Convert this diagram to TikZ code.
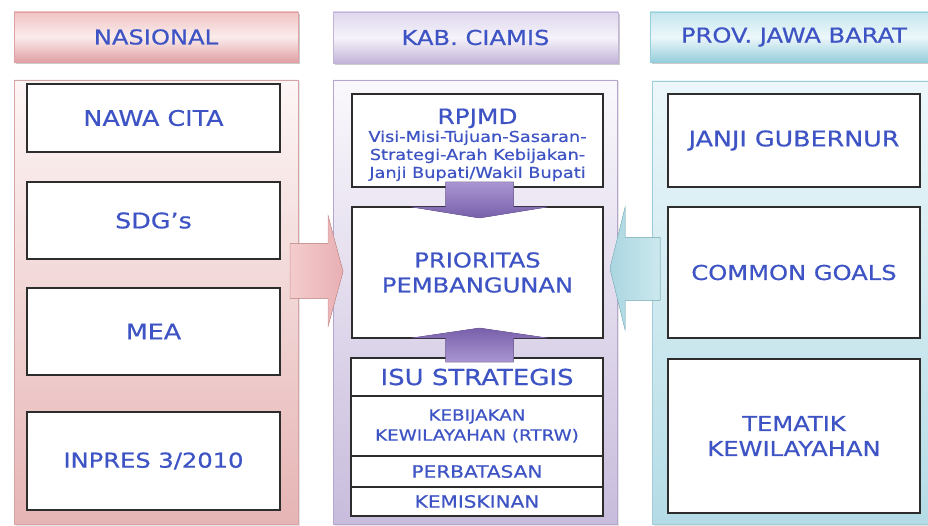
\documentclass[tikz,border=0pt]{standalone}
\usepackage{fontspec}
\setmainfont{DejaVu Sans}[FakeStretch=1.18,FakeBold=0.6]
\usetikzlibrary{shadows,calc}
\definecolor{txt}{RGB}{62,84,196}
\definecolor{boxline}{RGB}{45,45,45}
% headers
\definecolor{hNt}{RGB}{240,196,196}
\definecolor{hNm}{RGB}{250,236,236}
\definecolor{hNb}{RGB}{224,160,164}
\definecolor{hKt}{RGB}{222,214,236}
\definecolor{hKm}{RGB}{246,243,250}
\definecolor{hKb}{RGB}{194,180,216}
\definecolor{hPt}{RGB}{196,230,238}
\definecolor{hPm}{RGB}{236,247,250}
\definecolor{hPb}{RGB}{150,206,220}
% panels
\definecolor{pNt}{RGB}{253,246,246}
\definecolor{pNbot}{RGB}{230,180,180}
\definecolor{pNd}{RGB}{214,164,164}
\definecolor{pKt}{RGB}{250,248,252}
\definecolor{pKbot}{RGB}{200,188,220}
\definecolor{pKd}{RGB}{180,166,206}
\definecolor{pPt}{RGB}{236,247,250}
\definecolor{pPbot}{RGB}{180,220,230}
\definecolor{pPd}{RGB}{160,204,216}
% arrows
\definecolor{arL}{RGB}{244,204,204}
\definecolor{arR}{RGB}{232,176,180}
\definecolor{arLd}{RGB}{214,150,150}
\definecolor{abL}{RGB}{170,214,224}
\definecolor{abR}{RGB}{204,232,238}
\definecolor{abd}{RGB}{140,196,210}
\definecolor{puT}{RGB}{170,150,210}
\definecolor{puB}{RGB}{120,96,170}
\begin{document}
\begin{tikzpicture}[x=1pt,y=-1pt,
  tx/.style={text=txt, font=\fontsize{20.5}{25}\selectfont},
  ibox/.style={draw=boxline, line width=1.1pt, fill=white, inner sep=0pt, outer sep=0pt, anchor=north west, align=center, tx},
  hdr/.style={inner sep=0pt, outer sep=0pt, anchor=north west, tx, drop shadow={shadow xshift=2pt, shadow yshift=-2.5pt, opacity=0.4, fill=black!50}},
  panel/.style={inner sep=0pt, outer sep=0pt, anchor=north west, line width=0.8pt, drop shadow={shadow xshift=1.5pt, shadow yshift=-1.5pt, opacity=0.25, fill=black!40}},
  purp/.style={top color=puT, bottom color=puB, draw=puB, line width=0.4pt},
]
\useasboundingbox (0,0) rectangle (928,526);
\clip (0,0) rectangle (928,526);

% headers
\node[hdr, draw=hNb, top color=hNt, bottom color=hNb, middle color=hNm, minimum width=284, minimum height=50] (hN) at (14,12) {NASIONAL};
\node[hdr, draw=hKb, top color=hKt, bottom color=hKb, middle color=hKm, minimum width=285, minimum height=51] (hK) at (333,12) {KAB. CIAMIS};
\node[hdr, draw=hPb, top color=hPt, bottom color=hPb, middle color=hPm, minimum width=288, minimum height=50] (hP) at (650,12) {PROV. JAWA BARAT};

% panels
\node[panel, draw=pNd, top color=pNt, bottom color=pNbot, minimum width=284, minimum height=444] (pN) at (14,80) {};
\node[panel, draw=pKd, top color=pKt, bottom color=pKbot, minimum width=284, minimum height=444] (pK) at (333,80) {};
\node[panel, draw=pPd, top color=pPt, bottom color=pPbot, minimum width=290, minimum height=443] (pP) at (652,81) {};

% left boxes
\node[ibox, minimum width=253, minimum height=68, font=\fontsize{21.5}{25}\selectfont] (nawa) at (27,84) {NAWA CITA};
\node[ibox, minimum width=253, minimum height=77, font=\fontsize{21.5}{25}\selectfont] (sdg) at (27,182) {SDG’s};
\node[ibox, minimum width=253, minimum height=87, font=\fontsize{21.5}{25}\selectfont] (mea) at (27,288) {MEA};
\node[ibox, minimum width=253, minimum height=98] (inpres) at (27,412) {INPRES 3/2010};

% middle boxes
\node[ibox, minimum width=251, minimum height=93, font=\fontsize{15}{18}\selectfont] (rpjmd) at (352,94)
  {{\fontsize{21}{24}\selectfont\rule{0pt}{24pt}RPJMD}\\[0pt]Visi-Misi-Tujuan-Sasaran-\\Strategi-Arah Kebijakan-\\Janji Bupati/Wakil Bupati};
\node[ibox, minimum width=251, minimum height=131] (prior) at (352,207) {PRIORITAS\\PEMBANGUNAN};
\node[ibox, minimum width=252, minimum height=38, font=\fontsize{22}{24}\selectfont] (isu) at (351,358) {ISU STRATEGIS};
\node[ibox, minimum width=252, minimum height=60, font=\fontsize{15.5}{20}\selectfont] (kebij) at (351,396) {KEBIJAKAN\\KEWILAYAHAN (RTRW)};
\node[ibox, minimum width=252, minimum height=31, font=\fontsize{17}{20}\selectfont] (perb) at (351,456) {PERBATASAN};
\node[ibox, minimum width=252, minimum height=29, font=\fontsize{17}{20}\selectfont] (kemis) at (351,487) {KEMISKINAN};

% right boxes
\node[ibox, minimum width=252, minimum height=93, font=\fontsize{21.5}{25}\selectfont] (janji) at (668,94) {JANJI GUBERNUR};
\node[ibox, minimum width=252, minimum height=131] (common) at (668,207) {COMMON GOALS};
\node[ibox, minimum width=252, minimum height=154] (tematik) at (668,359) {TEMATIK\\KEWILAYAHAN};

% big side arrows
\coordinate (ltip) at ($(prior.west)+(-9,-1)$);
\fill[left color=arL, right color=arR, draw=arLd, line width=0.5pt]
  ($(ltip)+(-53,-28)$) -- ($(ltip)+(-15,-28)$) -- ($(ltip)+(-15,-56)$) -- (ltip)
  -- ($(ltip)+(-15,55)$) -- ($(ltip)+(-15,27)$) -- ($(ltip)+(-53,27)$) -- cycle;
\coordinate (rtip) at ($(prior.east)+(7,-4)$);
\fill[left color=abL, right color=abR, draw=abd, line width=0.5pt]
  ($(rtip)+(50,-31)$) -- ($(rtip)+(15,-31)$) -- ($(rtip)+(15,-61)$) -- (rtip)
  -- ($(rtip)+(15,61)$) -- ($(rtip)+(15,32)$) -- ($(rtip)+(50,32)$) -- cycle;

% purple arrows
\coordinate (dn) at ($(prior.north)+(2,0)$);
\fill[purp] ($(dn)+(-34,-25)$) -- ($(dn)+(34,-25)$) -- ($(dn)+(34,0)$) -- ($(dn)+(68,0)$)
  -- ($(dn)+(0,11)$) -- ($(dn)+(-68,0)$) -- ($(dn)+(-34,0)$) -- cycle;
\coordinate (up) at ($(prior.south)+(2,0)$);
\fill[top color=puB, bottom color=puT, draw=puB, line width=0.4pt] ($(up)+(-34,24)$) -- ($(up)+(34,24)$) -- ($(up)+(34,0)$) -- ($(up)+(68,0)$)
  -- ($(up)+(0,-10)$) -- ($(up)+(-68,0)$) -- ($(up)+(-34,0)$) -- cycle;
\end{tikzpicture}
\end{document}
